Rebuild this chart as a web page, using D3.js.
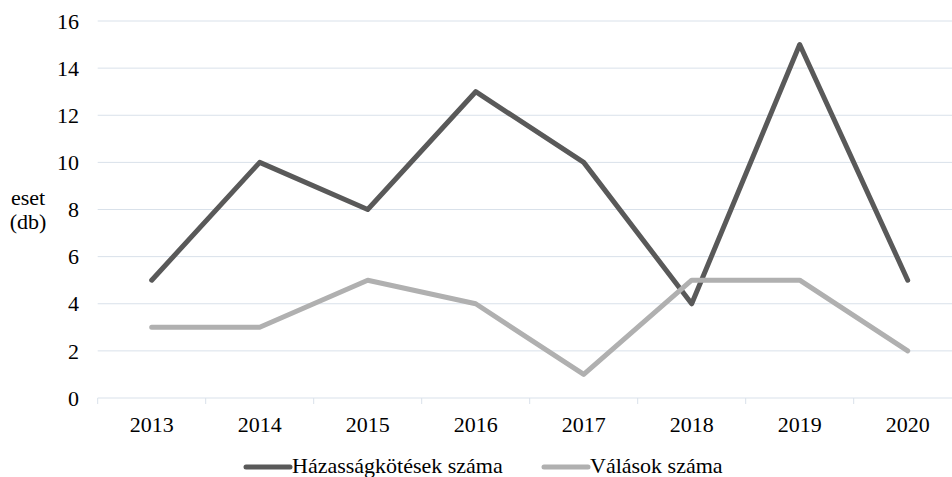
<!DOCTYPE html>
<html><head><meta charset="utf-8">
<script src="https://cdn.jsdelivr.net/npm/d3@7"></script>
<style>body{margin:0;background:#fff}svg{display:block}text{font-family:"Liberation Serif","Times New Roman",serif !important;fill:#000}</style>
</head><body><svg id="c" width="952" height="477"></svg>
<script>
const years = ["2013","2014","2015","2016","2017","2018","2019","2020"];
const marriages = [5,10,8,13,10,4,15,5];
const divorces = [3,3,5,4,1,5,5,2];
const yTicks = [0,2,4,6,8,10,12,14,16];
const seriesNames = ["Házasságkötések száma","Válások száma"];
const colors = ["#595959","#b0b0b0"];

(function(){
const FS = 22;
const svg = d3.select("#c");
const mLeft = 97.7, bw = 108, mTop = 21, mBottom = 398;
const x = d3.scaleBand().domain(years).range([mLeft, mLeft + bw*years.length]);
const y = d3.scaleLinear().domain([0,16]).range([mBottom, mTop]);

svg.append("g").selectAll("line").data(yTicks.filter(d=>d>0)).join("line")
  .attr("x1", mLeft).attr("x2", 952).attr("y1", d=>y(d)).attr("y2", d=>y(d))
  .attr("stroke","#d9e1ea").attr("stroke-width",1);

svg.append("g").selectAll("text").data(yTicks).join("text")
  .attr("x", 79).attr("y", d=>y(d)).attr("dy","0.35em").attr("text-anchor","end")
  .attr("font-size",FS).text(d=>d);

const xa = svg.append("g").attr("transform",`translate(0,${mBottom})`)
  .call(d3.axisBottom(x).tickSize(0).tickPadding(0));
xa.select(".domain").remove();
xa.selectAll("text").attr("dy",null).attr("y",34).attr("font-size",FS).attr("fill","#000");
svg.append("line").attr("x1",mLeft).attr("x2",952).attr("y1",mBottom).attr("y2",mBottom).attr("stroke","#d9e1ea");
svg.append("g").selectAll("line").data(d3.range(years.length+1)).join("line")
  .attr("x1",i=>mLeft+i*bw).attr("x2",i=>mLeft+i*bw).attr("y1",mBottom).attr("y2",mBottom+6)
  .attr("stroke","#d9e1ea");

svg.append("text").attr("x",28).attr("y",205).attr("text-anchor","middle").attr("font-size",FS).text("eset");
svg.append("text").attr("x",28).attr("y",229).attr("text-anchor","middle").attr("font-size",FS).text("(db)");

const line = d3.line().x((d,i)=>x(years[i])+x.bandwidth()/2).y(d=>y(d));
[marriages, divorces].forEach((s,k)=>{
  svg.append("path").datum(s).attr("d",line).attr("fill","none")
    .attr("stroke",colors[k]).attr("stroke-width",5).attr("stroke-linejoin","round").attr("stroke-linecap","round");
});

const leg = [{x1:246,x2:290,tx:292},{x1:544,x2:588,tx:590}];
leg.forEach((l,k)=>{
  svg.append("line").attr("x1",l.x1).attr("x2",l.x2).attr("y1",467).attr("y2",467)
    .attr("stroke",colors[k]).attr("stroke-width",5).attr("stroke-linecap","round");
  svg.append("text").attr("x",l.tx).attr("y",473).attr("font-size",FS).text(seriesNames[k]);
});
})();
</script></body></html>
